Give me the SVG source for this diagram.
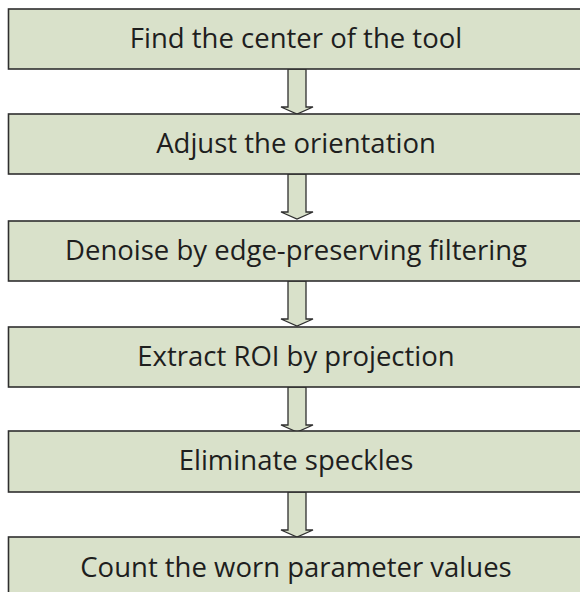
<svg xmlns="http://www.w3.org/2000/svg" width="580" height="592" viewBox="0 0 580 592">
<style>
.box{fill:#d9e1ca;stroke:#2f2f2f;stroke-width:1.6}
.lbl{font-family:"Open Sans","Noto Sans",sans-serif;font-size:27.5px;fill:#1e1e1e;text-anchor:middle}
.arr{fill:#d9e1ca;stroke:#2f2f2f;stroke-width:1.3;stroke-linejoin:miter}
</style>
<defs>
<path id="arrow" class="arr" d="M288,0 L306,0 L306,38 L313,38 L297,45 L281,38 L288,38 Z"/>
</defs>
<rect x="0" y="0" width="580" height="592" fill="#ffffff"/>
<g id="connectors">
<use href="#arrow" transform="translate(0,69)"/>
<use href="#arrow" transform="translate(0,174)"/>
<use href="#arrow" transform="translate(0,281)"/>
<use href="#arrow" transform="translate(0,387)"/>
<use href="#arrow" transform="translate(0,492)"/>
</g>
<g id="n1"><rect class="box" x="8.5" y="9" width="580" height="60"/><text class="lbl" x="296" y="48">Find the center of the tool</text></g>
<g id="n2"><rect class="box" x="8.5" y="114" width="580" height="60"/><text class="lbl" x="296" y="153">Adjust the orientation</text></g>
<g id="n3"><rect class="box" x="8.5" y="221" width="580" height="60"/><text class="lbl" x="296" y="260">Denoise by edge-preserving filtering</text></g>
<g id="n4"><rect class="box" x="8.5" y="327" width="580" height="60"/><text class="lbl" x="296" y="366">Extract ROI by projection</text></g>
<g id="n5"><rect class="box" x="8.5" y="431" width="580" height="61"/><text class="lbl" x="296" y="470">Eliminate speckles</text></g>
<g id="n6"><rect class="box" x="8.5" y="537" width="580" height="70"/><text class="lbl" x="296" y="577">Count the worn parameter values</text></g>
</svg>
